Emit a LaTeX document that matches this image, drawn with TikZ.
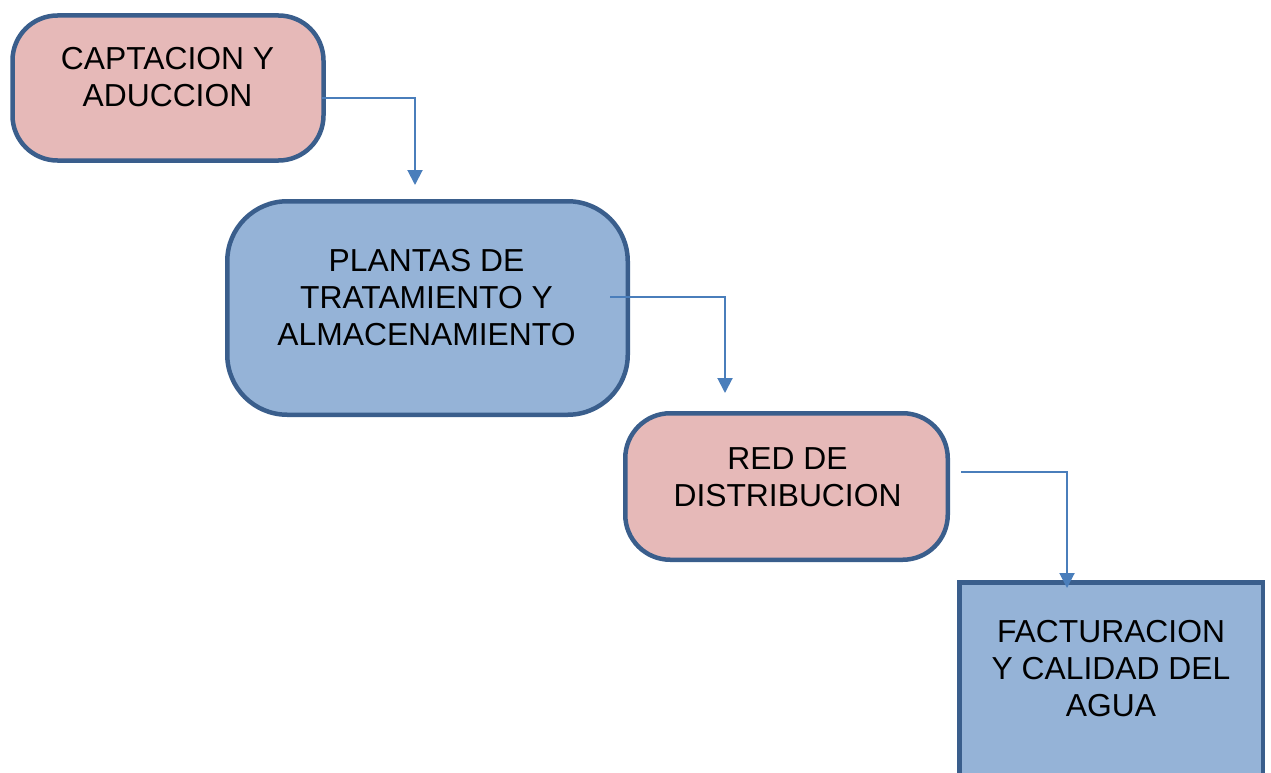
\documentclass[tikz,border=0pt]{standalone}
\usepackage{fontspec}
\setmainfont{Liberation Sans}
\usetikzlibrary{arrows.meta,positioning}
\definecolor{rosa}{HTML}{E6B9B8}
\definecolor{azul}{HTML}{95B3D7}
\definecolor{borde}{HTML}{3A5E8C}
\definecolor{flecha}{HTML}{4A7EBB}
\begin{document}
\begin{tikzpicture}[x=1pt,y=-1pt]
	\clip (0,0) rectangle (1271,773);
	\tikzset{caja/.style={draw=borde,line width=4.5pt,inner sep=0pt},
		txt/.style={anchor=north,align=center,inner sep=0pt,font=\fontsize{31.8}{37}\selectfont},
		flujo/.style={draw=flecha,line width=2pt,-{Triangle[length=15pt,width=15pt]}}}
	
	\node[caja,fill=rosa,rounded corners=45pt,minimum width=311pt,minimum height=145pt](Ncap) at (168,88){};
	\node[caja,fill=azul,rounded corners=60pt,minimum width=400.5pt,minimum height=213.5pt](Nplan) at (427.5,308){};
	\node[caja,fill=rosa,rounded corners=45pt,minimum width=322.5pt,minimum height=146.5pt](Nred) at (786.5,486.5){};
	\node[caja,fill=azul,minimum width=303.5pt,minimum height=300pt](Nfac) at (1111,732.5){};
	
	\node[txt](Tcap) at (167.5,47.5){CAPTACION Y\\ADUCCION};
	\node[txt](Tplan) at (426.5,249.5){PLANTAS DE\\TRATAMIENTO Y\\ALMACENAMIENTO};
	\node[txt](Tred) at (787.5,447.5){RED DE\\DISTRIBUCION};
	\node[txt](Tfac) at (1111,620.5){FACTURACION\\Y CALIDAD DEL\\AGUA};
	
	\coordinate (S1) at (322,98);
	\coordinate (F1) at (415,185);
	\coordinate (S2) at (610,297);
	\coordinate (F2) at (725,393);
	\coordinate (S3) at (961,472);
	\coordinate (F3) at (1067,588);
	
	\path[flujo] (S1) -| (F1);
	\path[flujo] (S2) -| (F2);
	\path[flujo] (S3) -| (F3);
\end{tikzpicture}
\end{document}
